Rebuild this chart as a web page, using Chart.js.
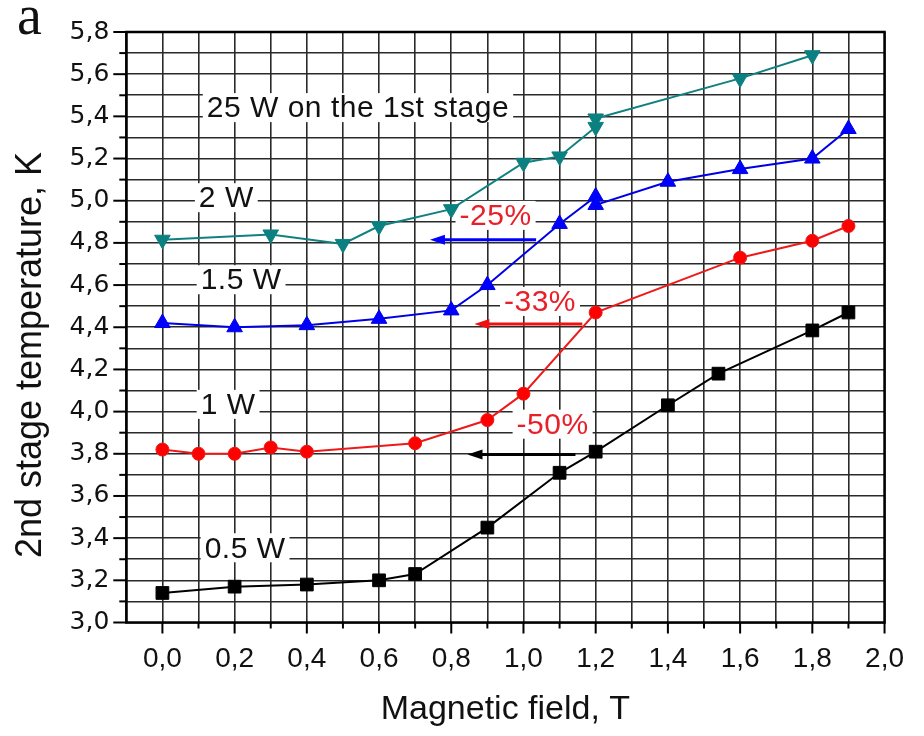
<!DOCTYPE html>
<html>
<head>
<meta charset="utf-8">
<title>2nd stage temperature vs magnetic field</title>
<script src="https://cdn.jsdelivr.net/npm/chart.js@4.4.1/dist/chart.umd.min.js"></script>
<style>
  html, body { margin: 0; padding: 0; background: #fff; }
  #wrap { width: 924px; height: 736px; }
</style>
</head>
<body>
<div id="wrap"><canvas id="myChart" width="924" height="736"></canvas></div>
<script>
// heat load on the 2nd stage: 0.5 W
const field05 = [0, 0.2, 0.4, 0.6, 0.7, 0.9, 1.1, 1.2, 1.4, 1.54, 1.8, 1.9];
const temp05 = [3.14, 3.17, 3.18, 3.20, 3.23, 3.45, 3.71, 3.81, 4.03, 4.18, 4.385, 4.47];

// 1 W
const field1 = [0, 0.1, 0.2, 0.3, 0.4, 0.7, 0.9, 1.0, 1.2, 1.6, 1.8, 1.9];
const temp1 = [3.82, 3.80, 3.80, 3.83, 3.81, 3.85, 3.96, 4.085, 4.47, 4.73, 4.81, 4.88];

// 1.5 W
const field15 = [0, 0.2, 0.4, 0.6, 0.8, 0.9, 1.1, 1.2, 1.2, 1.4, 1.6, 1.8, 1.9];
const temp15 = [4.42, 4.40, 4.41, 4.44, 4.48, 4.60, 4.89, 5.02, 4.98, 5.09, 5.15, 5.20, 5.34];

// 2 W
const field2 = [0, 0.3, 0.5, 0.6, 0.8, 1.0, 1.1, 1.2, 1.2, 1.6, 1.8];
const temp2 = [4.815, 4.84, 4.795, 4.88, 4.96, 5.18, 5.21, 5.35, 5.39, 5.58, 5.69];

// tick labels (decimal comma as in the original)
const xLabels = ['0,0', '0,2', '0,4', '0,6', '0,8', '1,0', '1,2', '1,4', '1,6', '1,8', '2,0'];
const yLabels = ['3,0', '3,2', '3,4', '3,6', '3,8', '4,0', '4,2', '4,4', '4,6', '4,8', '5,0', '5,2', '5,4', '5,6', '5,8'];

// text notes, anchored in data units (left edge, middle)
const notes = [
  { text: '25 W on the 1st stage', x: 0.123, y: 5.439, color: '#111' },
  { text: '2 W', x: 0.101, y: 5.012, color: '#111' },
  { text: '1.5 W', x: 0.106, y: 4.623, color: '#111' },
  { text: '1 W', x: 0.106, y: 4.032, color: '#111' },
  { text: '0.5 W', x: 0.117, y: 3.352, color: '#111' },
  { text: '-25%', x: 0.823, y: 4.928, color: '#e8202a' },
  { text: '-33%', x: 0.946, y: 4.52, color: '#e8202a' },
  { text: '-50%', x: 0.981, y: 3.938, color: '#e8202a' }
];

// horizontal arrows pointing to lower field
const arrows = [
  { from: 1.035, to: 0.741, y: 4.815, color: '#0000ff' },
  { from: 1.163, to: 0.864, y: 4.416, color: '#ee1111' },
  { from: 1.144, to: 0.845, y: 3.797, color: '#000' }
];

const toPoints = (xs, ys) => xs.map((v, i) => ({ x: v, y: ys[i] }));

const sans = '"Liberation Sans", Arial, sans-serif';

const extras = {
  id: 'extras',
  beforeDatasetsDraw(chart) {
    const { ctx, scales: { x, y } } = chart;
    ctx.save();
    ctx.font = '30px ' + sans;
    ctx.letterSpacing = '0.5px';
    ctx.textBaseline = 'middle';
    notes.forEach(n => {
      const px = x.getPixelForValue(n.x);
      const py = y.getPixelForValue(n.y);
      const w = ctx.measureText(n.text).width;
      ctx.fillStyle = '#fff';
      ctx.fillRect(px - 4, py - 15, w + 8, 29);
      ctx.fillStyle = n.color;
      ctx.fillText(n.text, px, py + 1);
    });
    ctx.letterSpacing = '0px';

    arrows.forEach(a => {
      const x1 = x.getPixelForValue(a.from);
      const x2 = x.getPixelForValue(a.to);
      const py = y.getPixelForValue(a.y);
      ctx.strokeStyle = a.color;
      ctx.fillStyle = a.color;
      ctx.lineWidth = 3;
      ctx.beginPath();
      ctx.moveTo(x1, py);
      ctx.lineTo(x2 + 10, py);
      ctx.stroke();
      ctx.beginPath();
      ctx.moveTo(x2, py);
      ctx.lineTo(x2 + 15, py - 5);
      ctx.lineTo(x2 + 15, py + 5);
      ctx.closePath();
      ctx.fill();
    });
    ctx.restore();
  },
  afterDraw(chart) {
    const { ctx, chartArea: { left, right, top, bottom }, scales: { x, y } } = chart;
    ctx.save();
    ctx.strokeStyle = '#000';

    // tick marks, long at labelled values
    ctx.lineWidth = 2;
    x.ticks.forEach(t => {
      const k = Math.round(t.value * 10);
      if (k < 0) return;
      const px = x.getPixelForValue(t.value);
      ctx.beginPath();
      ctx.moveTo(px, bottom);
      ctx.lineTo(px, bottom + (k % 2 === 0 ? 11 : 6));
      ctx.stroke();
    });
    y.ticks.forEach(t => {
      const k = Math.round((t.value - 3) * 10);
      const py = y.getPixelForValue(t.value);
      ctx.beginPath();
      ctx.moveTo(left - (k % 2 === 0 ? 13 : 7), py);
      ctx.lineTo(left, py);
      ctx.stroke();
    });

    // frame
    ctx.lineWidth = 2.5;
    ctx.strokeRect(left, top, right - left, bottom - top);

    // y axis title
    ctx.fillStyle = '#111';
    ctx.font = '36px ' + sans;
    ctx.textAlign = 'center';
    ctx.textBaseline = 'middle';
    ctx.translate(31, 355);
    ctx.rotate(-Math.PI / 2);
    ctx.fillText('2nd stage temperature, K', 0, 0);
    ctx.setTransform(1, 0, 0, 1, 0, 0);

    // panel letter
    ctx.font = '56px "Liberation Serif", "Times New Roman", serif';
    ctx.textAlign = 'left';
    ctx.textBaseline = 'alphabetic';
    ctx.fillText('a', 17, 34);
    ctx.restore();
  }
};

const ctx = document.getElementById('myChart').getContext('2d');
const myChart = new Chart(ctx, {
  type: 'line',
  data: {
    datasets: [
      {
        label: '0.5 W',
        data: toPoints(field05, temp05),
        borderColor: '#000',
        backgroundColor: '#000',
        borderWidth: 2,
        pointStyle: 'rect',
        pointRadius: 9,
        pointBorderWidth: 1
      },
      {
        label: '1 W',
        data: toPoints(field1, temp1),
        borderColor: '#ee1a1a',
        backgroundColor: '#ff0000',
        borderWidth: 2,
        pointStyle: 'circle',
        pointRadius: 6.5,
        pointBorderWidth: 1
      },
      {
        label: '1.5 W',
        data: toPoints(field15, temp15),
        borderColor: '#0000e6',
        backgroundColor: '#0000ff',
        borderWidth: 2,
        pointStyle: 'triangle',
        pointRadius: 9,
        pointBorderWidth: 1
      },
      {
        label: '2 W',
        data: toPoints(field2, temp2),
        borderColor: '#108080',
        backgroundColor: '#0a8080',
        borderWidth: 2,
        pointStyle: 'triangle',
        rotation: 180,
        pointRadius: 9,
        pointBorderWidth: 1
      }
    ]
  },
  options: {
    responsive: false,
    animation: false,
    layout: { padding: { left: 0, top: 25, right: 27, bottom: 0 } },
    plugins: {
      legend: { display: false },
      tooltip: { enabled: false }
    },
    scales: {
      x: {
        type: 'linear',
        min: -0.1,
        max: 2.0,
        afterFit: (scale) => { scale.height = 113.5; },
        border: { display: false },
        grid: { color: '#2a2a2a', lineWidth: 1.6, drawTicks: false },
        ticks: {
          stepSize: 0.1,
          autoSkip: false,
          maxRotation: 0,
          padding: 20,
          color: '#111',
          font: { family: sans, size: 28 },
          callback: (value) => {
            const k = Math.round(value * 10);
            return (k >= 0 && k % 2 === 0) ? xLabels[k / 2] : '';
          }
        },
        title: {
          display: true,
          text: 'Magnetic field, T',
          color: '#111',
          font: { family: sans, size: 34 },
          padding: { top: 0, bottom: 6 }
        }
      },
      y: {
        type: 'linear',
        min: 3.0,
        max: 5.8,
        afterFit: (scale) => { scale.width = 126.3; },
        border: { display: false },
        grid: { color: '#2a2a2a', lineWidth: 1.6, drawTicks: false },
        ticks: {
          stepSize: 0.1,
          autoSkip: false,
          padding: 17,
          color: '#111',
          font: { family: '"DejaVu Sans", sans-serif', size: 25 },
          callback: (value) => {
            const k = Math.round((value - 3) * 10);
            return k % 2 === 0 ? yLabels[k / 2] : '';
          }
        }
      }
    }
  },
  plugins: [extras]
});
</script>
</body>
</html>
